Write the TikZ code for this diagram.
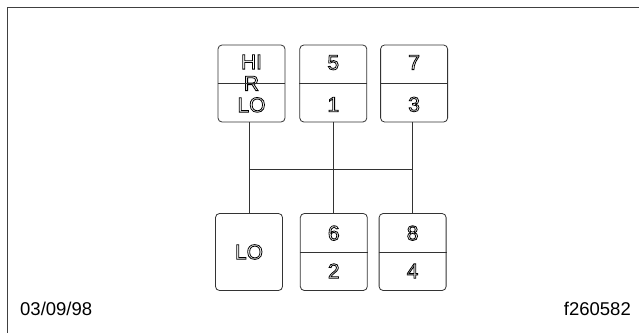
\documentclass[tikz,border=0pt]{standalone}
\usepackage{fontspec}
\setmainfont{Liberation Sans}
\usetikzlibrary{positioning}
\newcommand{\hollow}[1]{\special{pdf:literal direct 1 Tr 0.8 w}#1\special{pdf:literal direct 0 Tr}}

\begin{document}
\begin{tikzpicture}[
            x=1pt, y=-1pt,
            gearbox/.style={
                    rectangle,
                    rounded corners=4pt,
                    draw=black!80,
                    line width=0.8pt,
                    minimum width=67pt,
                    minimum height=77pt,
                    inner sep=0pt,
                    align=center
                },
            shaft/.style={
                    draw=black!80,
                    line width=0.8pt
                },
            stamp/.style={
                    inner sep=0pt,
                    font=\fontsize{18.5}{18.5}\selectfont
                }
        ]
        \useasboundingbox (0,0) rectangle (639,333);

        % Cadre
        \draw[black!75, line width=1.3pt] (639,7.5) -- (7.5,7.5) -- (7.5,333);

        % Rangee du haut
        \node[gearbox, font=\fontsize{21}{21.5}\selectfont] (hi) at (251.5,83.5) {\hollow{HI}\\\hollow{R}\\\hollow{LO}};
        \node[gearbox, font=\fontsize{21}{42}\selectfont, right=14pt of hi] (g51) {\hollow{5}\\\hollow{1}};
        \node[gearbox, font=\fontsize{21}{42}\selectfont, right=13pt of g51] (g73) {\hollow{7}\\\hollow{3}};

        % Rangee du bas
        \node[gearbox, font=\fontsize{21}{21}\selectfont] (lo) at (249,252) {\hollow{LO}};
        \node[gearbox, font=\fontsize{21}{38}\selectfont, right=17pt of lo] (g62) {\hollow{6}\\\hollow{2}};
        \node[gearbox, font=\fontsize{21}{38}\selectfont, right=11pt of g62] (g84) {\hollow{8}\\\hollow{4}};

        % Separations
        \draw[shaft] (hi.west) -- (hi.east);
        \draw[shaft] (g51.west) -- (g51.east);
        \draw[shaft] (g73.west) -- (g73.east);
        \draw[shaft] (g62.west) -- (g62.east);
        \draw[shaft] (g84.west) -- (g84.east);

        % Grille
        \coordinate (bar) at (0,169);
        \draw[shaft] (lo.north) -- (lo.north |- hi.south);
        \draw[shaft] (g62.north) -- (g62.north |- g51.south);
        \draw[shaft] (g84.north) -- (g84.north |- g73.south);
        \draw[shaft] (lo.north |- bar) -- (g84.north |- bar);

        % Textes
        \node[stamp, anchor=west] (date) at (20,309) {03/09/98};
        \node[stamp, anchor=east] (fig) at (631,309) {f260582};

    \end{tikzpicture}
\end{document}
